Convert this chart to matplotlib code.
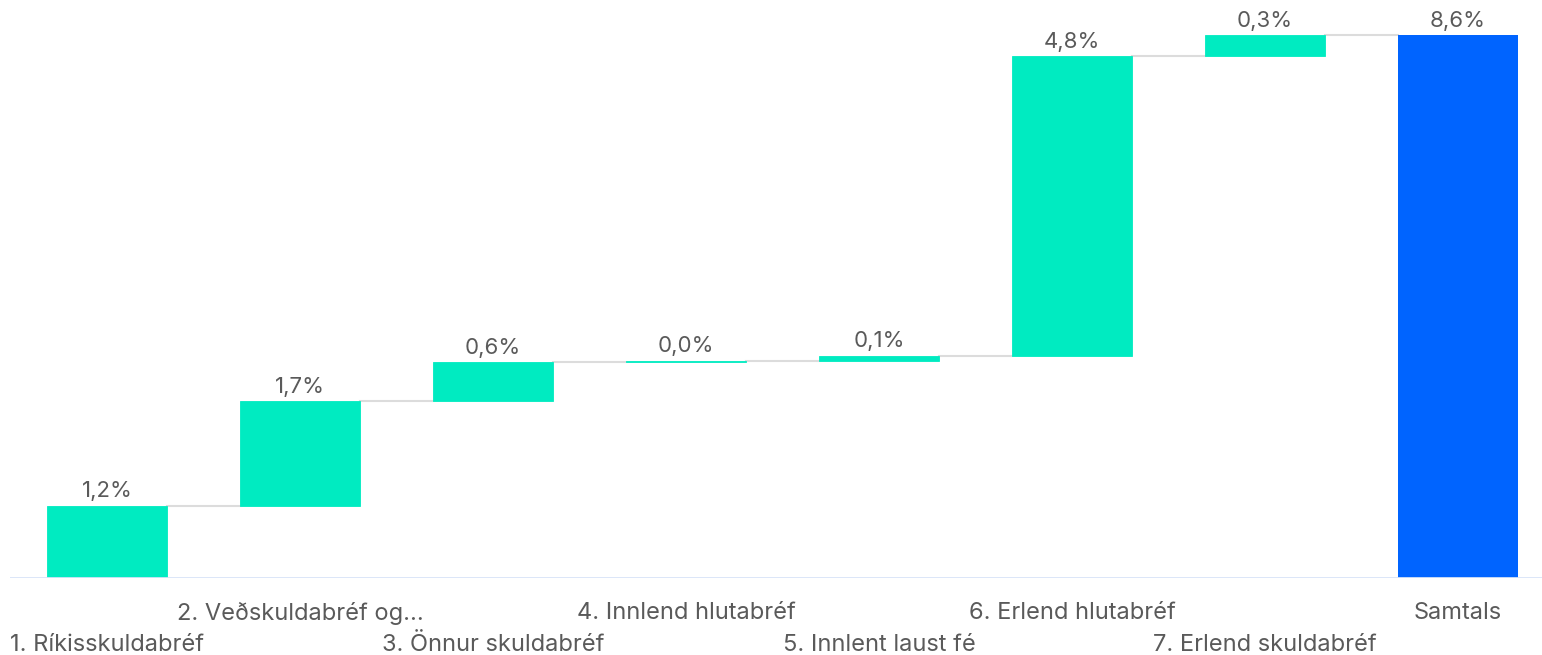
import numpy as np
import matplotlib.pyplot as plt

plt.rcParams['font.family'] = ['Inter', 'DejaVu Sans']

categories = ["1. Ríkisskuldabréf", "2. Veðskuldabréf og...", "3. Önnur skuldabréf",
              "4. Innlend hlutabréf", "5. Innlent laust fé", "6. Erlend hlutabréf",
              "7. Erlend skuldabréf"]
changes = [1.151, 1.66, 0.62, 0.02, 0.08, 4.76, 0.33]
total_label = "Samtals"

step_color = "#00EBC1"
total_color = "#0064FF"
text_color = "#5a5a5a"

changes = np.array(changes)
ends = np.cumsum(changes)
starts = ends - changes
total = ends[-1]

labels = categories + [total_label]
n = len(labels)
x = np.arange(n)

fig = plt.figure(figsize=(15.42, 6.55), dpi=100)
W, H = 1542, 655
px_unit = 193.0
left_px, center0 = 10, 107
ax = fig.add_axes([left_px / W, (H - 578) / H, 1 - left_px / W, (578 - 15) / H])
ax.set_xlim(-(center0 - left_px) / px_unit, (W - center0) / px_unit)
ax.set_ylim(0, total * (578 - 15) / (578 - 35))

width = 0.62
ax.bar(x[:-1], changes, bottom=starts, width=width, color=step_color,
       edgecolor=step_color, linewidth=0.6, zorder=2)
ax.bar(x[-1], total, width=width, color=total_color, zorder=2)

# connectors between bar tops
for i in range(n - 1):
    ax.plot([x[i] + width / 2, x[i + 1] - width / 2], [ends[i], ends[i]],
            color="#dcdcdc", lw=1.5, zorder=1)

vals = list(changes) + [total]
tops = list(ends) + [total]
for xi, v, t in zip(x, vals, tops):
    ax.annotate(f"{v:.1f}%".replace(".", ","), (xi, t), xytext=(0, 3), textcoords="offset points",
                ha="center", va="bottom", fontsize=16, color=text_color)

for s in ax.spines.values():
    s.set_visible(False)
ax.axhline(0, color="#d8e4f8", lw=2, zorder=3)
ax.set_yticks([])
ax.set_xticks(x)
ax.set_xticklabels(labels, fontsize=17, color=text_color)
ax.tick_params(axis="x", length=0)
for i, tick in enumerate(ax.get_xaxis().get_major_ticks()):
    tick.set_pad(40 if i % 2 == 0 else 17)

fig.savefig("out.png", dpi=100)
